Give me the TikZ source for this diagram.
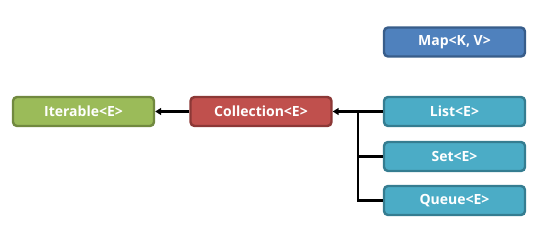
\documentclass[tikz,border=0pt]{standalone}
\usepackage{fontspec}
\setmainfont{Open Sans}[BoldFont={Open Sans Bold}]
\usetikzlibrary{arrows.meta}
\definecolor{gfill}{HTML}{9BBB59}\definecolor{gdraw}{HTML}{71893F}
\definecolor{rfill}{HTML}{C0504D}\definecolor{rdraw}{HTML}{8C3836}
\definecolor{bfill}{HTML}{4F81BD}\definecolor{bdraw}{HTML}{385D8A}
\definecolor{cfill}{HTML}{4BACC6}\definecolor{cdraw}{HTML}{357D91}
\begin{document}
\begin{tikzpicture}[x=1pt,y=-1pt,
  box/.style={rectangle,rounded corners=4pt,line width=2.4pt,minimum width=141pt,minimum height=29pt,
    inner sep=0pt,text=white,font=\fontsize{14}{16}\selectfont\bfseries},
  gbox/.style={box,fill=gfill,draw=gdraw},
  rbox/.style={box,fill=rfill,draw=rdraw},
  bbox/.style={box,fill=bfill,draw=bdraw},
  cbox/.style={box,fill=cfill,draw=cdraw},
  conn/.style={line width=2.4pt,black},
  arr/.style={conn,-{Triangle[length=6pt,width=7pt]}}]
\useasboundingbox (0,0) rectangle (543,230);
\node[gbox] (it) at (83.5,111.5) {Iterable<E>};
\node[rbox] (co) at (261,111.5) {Collection<E>};
\node[bbox] (map) at (454.5,42) {Map<K, V>};
\node[cbox] (li) at (454.5,111.5) {List<E>};
\node[cbox] (se) at (454.5,156.5) {Set<E>};
\node[cbox] (qu) at (454.5,200.5) {Queue<E>};
\coordinate (j) at (358,111.5);
\draw[arr] (co.west) -- (it.east);
\draw[arr] (li.west) -- (co.east);
\draw[conn] (j) |- (se.west);
\draw[conn] (j) |- (qu.west);
\end{tikzpicture}
\end{document}
